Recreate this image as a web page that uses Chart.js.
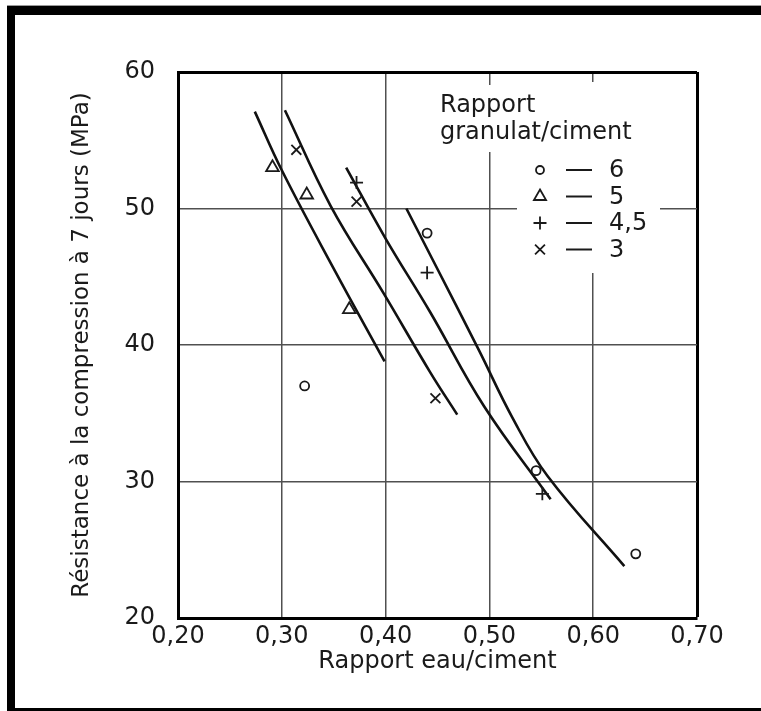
<!DOCTYPE html>
<html>
<head>
<meta charset="utf-8">
<script src="https://cdn.jsdelivr.net/npm/chart.js@4.4.1/dist/chart.umd.min.js"></script>
<style>
html, body { margin: 0; padding: 0; background: #fff; }
#wrap { position: relative; width: 761px; height: 711px; overflow: hidden; }
#chart { position: absolute; left: 0; top: 0; }
#frame { position: absolute; left: 7px; top: 6px; width: 754px; height: 705px; box-sizing: border-box;
  border-top: 9px solid #000; border-left: 8px solid #000; border-bottom: 3px solid #000; pointer-events: none; }
#topline { position: absolute; left: 7px; top: 5px; width: 754px; height: 1px; background: #9a9a9a; }
</style>
</head>
<body>
<div id="wrap">
  <canvas id="chart" width="761" height="711"></canvas>
  <div id="topline"></div>
  <div id="frame"></div>
</div>
<script>
// data
const xTickLabels = ["0,20", "0,30", "0,40", "0,50", "0,60", "0,70"];
const yTickLabels = ["20", "30", "40", "50", "60"];
const xTitle = "Rapport eau/ciment";
const yTitle = "Résistance à la compression à 7 jours (MPa)";
const legendTitle = ["Rapport", "granulat/ciment"];
const seriesNames = ["6", "5", "4,5", "3"];

// measured points (eau/ciment, MPa)
const r6_x = [0.440, 0.322, 0.545, 0.641];
const r6_y = [48.2, 37.0, 30.8, 24.7];
const r5_x = [0.291, 0.324, 0.365];
const r5_y = [53.0, 51.0, 42.6];
const r45_x = [0.372, 0.440, 0.551];
const r45_y = [51.9, 45.3, 29.1];
const r3_x = [0.314, 0.372, 0.448];
const r3_y = [54.3, 50.5, 36.1];

// hand drawn curves
const curveA_x = [0.274, 0.300, 0.350, 0.399];
const curveA_y = [57.1, 52.8, 45.6, 38.8];
const curveB_x = [0.303, 0.347, 0.398, 0.443, 0.469];
const curveB_y = [57.2, 50.2, 43.8, 38.0, 34.9];
const curveC_x = [0.362, 0.400, 0.443, 0.495, 0.559];
const curveC_y = [53.0, 47.8, 42.4, 35.5, 28.7];
const curveD_x = [0.420, 0.445, 0.490, 0.522, 0.556, 0.630];
const curveD_y = [50.0, 46.3, 39.6, 34.7, 30.4, 23.8];

const pts = (xs, ys) => xs.map((x, i) => ({ x: x, y: ys[i] }));

const ink = "#1a1a1a";
const font = "DejaVu Sans";

function markers(name, xs, ys, style, r) {
    return {
        label: name, data: pts(xs, ys), showLine: false,
        pointStyle: style, pointRadius: r, pointHoverRadius: r,
        pointBorderColor: ink, pointBackgroundColor: "rgba(0,0,0,0)", pointBorderWidth: 1.8
    };
}
function curve(xs, ys) {
    return {
        label: "", data: pts(xs, ys), showLine: true, pointRadius: 0,
        borderColor: "#111", borderWidth: 2.6, tension: 0.4, fill: false
    };
}

const legendRadius = [4, 7, 6.5, 7];

const legendBox = {
    id: "legendBox",
    afterDatasetsDraw(chart) {
        const ctx = chart.ctx;
        ctx.save();
        // white ground behind the legend (cuts the grid lines)
        ctx.fillStyle = "#fff";
        ctx.fillRect(436, 85, 204, 67);
        ctx.fillRect(517, 82, 143, 191);

        ctx.fillStyle = ink;
        ctx.font = "24px '" + font + "'";
        ctx.textAlign = "left";
        ctx.textBaseline = "alphabetic";
        legendTitle.forEach((t, i) => ctx.fillText(t, 440, 112 + i * 27));

        ctx.textBaseline = "middle";
        seriesNames.forEach((name, i) => {
            const ds = chart.data.datasets[i];
            const y = 170 + i * 26.5;
            ctx.strokeStyle = ink;
            ctx.fillStyle = "rgba(0,0,0,0)";
            ctx.lineWidth = 1.8;
            Chart.helpers.drawPoint(ctx, { pointStyle: ds.pointStyle, radius: legendRadius[i], borderWidth: 1.8, rotation: 0 }, 540, y);
            ctx.beginPath();
            ctx.moveTo(566, y);
            ctx.lineTo(592, y);
            ctx.lineWidth = 2;
            ctx.stroke();
            ctx.fillStyle = ink;
            ctx.fillText(name, 609, y + 1);
        });
        ctx.restore();
    }
};

const edge = (v, end) => Math.abs(v - end) < 1e-6;

new Chart(document.getElementById("chart"), {
    type: "scatter",
    data: {
        datasets: [
            markers(seriesNames[0], r6_x, r6_y, "circle", 4.5),
            markers(seriesNames[1], r5_x, r5_y, "triangle", 7.3),
            markers(seriesNames[2], r45_x, r45_y, "cross", 6.5),
            markers(seriesNames[3], r3_x, r3_y, "crossRot", 7),
            curve(curveA_x, curveA_y),
            curve(curveB_x, curveB_y),
            curve(curveC_x, curveC_y),
            curve(curveD_x, curveD_y)
        ]
    },
    options: {
        responsive: false,
        animation: false,
        layout: { padding: { left: 0, top: 72, right: 64, bottom: 0 } },
        plugins: { legend: { display: false }, tooltip: { enabled: false } },
        scales: {
            x: {
                type: "linear", min: 0.2, max: 0.7,
                afterFit: (s) => { s.height = 93; },
                ticks: {
                    stepSize: 0.1, autoSkip: false, padding: 4, color: ink,
                    font: { family: font, size: 24 },
                    callback: (v, i) => xTickLabels[i]
                },
                grid: {
                    drawTicks: false,
                    color: (c) => edge(c.tick.value, 0.7) ? "#000" : "#505050",
                    lineWidth: (c) => edge(c.tick.value, 0.7) ? 3 : 1.5
                },
                border: { color: "#000", width: 3 },
                title: {
                    display: true, text: xTitle, color: ink,
                    font: { family: font, size: 24 }, padding: { top: 0, bottom: 35 }
                }
            },
            y: {
                type: "linear", min: 20, max: 60,
                afterFit: (s) => { s.width = 178; },
                ticks: {
                    stepSize: 10, autoSkip: false, padding: 23, color: ink,
                    font: { family: font, size: 24 },
                    callback: (v, i) => yTickLabels[i]
                },
                grid: {
                    drawTicks: false,
                    color: (c) => edge(c.tick.value, 60) ? "#000" : "#505050",
                    lineWidth: (c) => edge(c.tick.value, 60) ? 3 : 1.5
                },
                border: { color: "#000", width: 3 },
                title: {
                    display: true, text: yTitle, color: ink,
                    font: { family: font, size: 23 }, padding: { top: 68, bottom: 0 }
                }
            }
        }
    },
    plugins: [legendBox]
});
</script>
</body>
</html>
